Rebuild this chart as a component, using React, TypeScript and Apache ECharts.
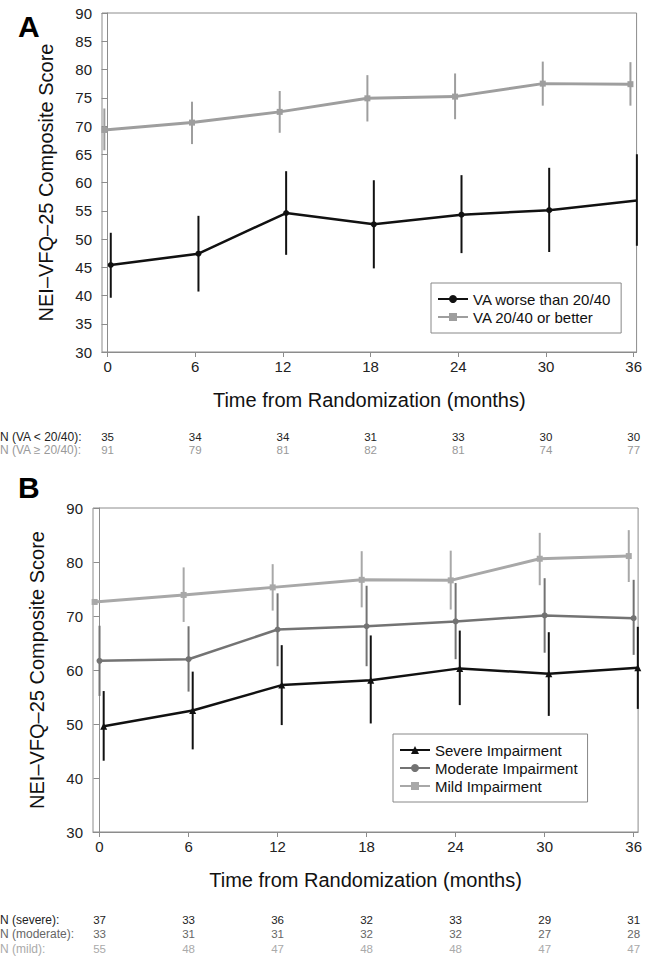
import React, { useEffect, useRef } from "react";
import * as echarts from "echarts";

// ---------- data ----------
const months = [0, 6, 12, 18, 24, 30, 36];
const monthTicks = [0, 6, 12, 18, 24, 30, 36];
const yTicksA = [30, 90];
const yTicksB = [30, 90];

// Panel A
const worseMean = [45.4, 47.4, 54.6, 52.6, 54.3, 55.1, 56.8];
const worseLo = [39.6, 40.7, 47.2, 44.8, 47.5, 47.7, 48.8];
const worseHi = [51.1, 54.1, 62.0, 60.4, 61.3, 62.6, 65.0];
const betterMean = [69.3, 70.6, 72.5, 74.9, 75.2, 77.5, 77.4];
const betterLo = [65.7, 66.8, 68.8, 70.8, 71.2, 73.6, 73.6];
const betterHi = [73.1, 74.3, 76.2, 79.0, 79.3, 81.4, 81.3];
const nWorse = [35, 34, 34, 31, 33, 30, 30];
const nBetter = [91, 79, 81, 82, 81, 74, 77];

// Panel B
const severeMean = [49.6, 52.5, 57.2, 58.1, 60.3, 59.3, 60.4];
const severeLo = [43.2, 45.3, 49.8, 50.1, 53.5, 51.5, 52.8];
const severeHi = [56.1, 59.7, 64.6, 66.4, 67.3, 67.0, 68.0];
const moderateMean = [61.7, 62.0, 67.5, 68.1, 69.0, 70.1, 69.6];
const moderateLo = [55.2, 56.0, 60.7, 60.7, 62.0, 63.2, 62.8];
const moderateHi = [68.2, 68.1, 74.2, 75.6, 76.1, 77.0, 76.7];
const mildMean = [72.6, 73.9, 75.3, 76.7, 76.6, 80.6, 81.1];
const mildLo = [null, 68.9, 71.0, 71.6, 71.2, 75.7, 76.3];
const mildHi = [null, 79.0, 79.6, 82.0, 82.1, 85.4, 85.9];
const nSevere = [37, 33, 36, 32, 33, 29, 31];
const nModerate = [33, 31, 31, 32, 32, 27, 28];
const nMild = [55, 48, 47, 48, 48, 47, 47];

const seriesNamesA = ["VA worse than 20/40", "VA 20/40 or better"];
const seriesNamesB = ["Severe Impairment", "Moderate Impairment", "Mild Impairment"];
const nLabelsA = ["N (VA < 20/40):", "N (VA \u2265 20/40):"];
const nLabelsB = ["N (severe):", "N (moderate):", "N (mild):"];
const yName = "NEI\u2013VFQ\u201325 Composite Score";
const xName = "Time from Randomization (months)";

// ---------- style ----------
const FONT = "'Liberation Sans', Arial, Helvetica, sans-serif";
const AXIS = "#8c8c8c";
const BLACK = "#111111";
const GREY_A = "#9e9e9e";
const MOD = "#737373";
const MILD = "#a8a8a8";

const A_TOP = 13, A_BOTTOM = 352, A_LEFT = 102, A_RIGHT = 640;
const B_TOP = 508, B_BOTTOM = 832, B_LEFT = 93, B_RIGHT = 642;

function errSeries(xi: number, yi: number, dodge: number, lo: (number | null)[], hi: (number | null)[], color: string, w: number) {
  const data: number[][] = [];
  months.forEach((m, i) => {
    if (lo[i] != null && hi[i] != null) data.push([m + dodge, lo[i] as number, hi[i] as number]);
  });
  return {
    type: "custom",
    xAxisIndex: xi,
    yAxisIndex: yi,
    silent: true,
    z: 2,
    encode: { x: 0, y: [1, 2] },
    renderItem: (_p: any, api: any) => {
      const a = api.coord([api.value(0), api.value(1)]);
      const b = api.coord([api.value(0), api.value(2)]);
      return {
        type: "line",
        shape: { x1: a[0], y1: a[1], x2: b[0], y2: b[1] },
        style: { stroke: color, lineWidth: w },
      };
    },
    data,
  };
}

function lineSeries(name: string, xi: number, yi: number, dodge: number, mean: number[], color: string, w: number, symbol: string, size: number) {
  return {
    type: "line",
    name,
    xAxisIndex: xi,
    yAxisIndex: yi,
    z: 3,
    data: months.map((m, i) => [m + dodge, mean[i]]),
    symbol,
    symbolSize: size,
    showAllSymbol: true,
    lineStyle: { color, width: w },
    itemStyle: { color },
  };
}

function mainX(grid: number, min: number, max: number) {
  return {
    type: "value",
    gridIndex: grid,
    min,
    max,
    position: "bottom",
    name: xName,
    nameLocation: "middle",
    nameGap: 38,
    nameTextStyle: { fontFamily: FONT, fontSize: 20, color: "#111" },
    axisLine: { show: true, lineStyle: { color: AXIS, width: 1 } },
    axisTick: { show: true, length: 5, lineStyle: { color: AXIS }, customValues: monthTicks },
    axisLabel: { show: true, margin: 7, fontFamily: FONT, fontSize: 15, color: "#222", customValues: monthTicks },
    splitLine: { show: false },
  };
}

function nAxis(grid: number, min: number, max: number, offset: number, values: number[], color: string) {
  return {
    type: "value",
    gridIndex: grid,
    min,
    max,
    position: "bottom",
    offset,
    axisLine: { show: false },
    axisTick: { show: false },
    splitLine: { show: false },
    axisLabel: {
      show: true,
      margin: 0,
      verticalAlign: "middle",
      fontFamily: FONT,
      fontSize: 11.5,
      color,
      customValues: monthTicks,
      formatter: (v: number) => {
        const idx = months.indexOf(Math.round(v));
        return idx >= 0 ? String(values[idx]) : "";
      },
    },
  };
}

function mainY(grid: number, interval: number) {
  return {
    type: "value",
    gridIndex: grid,
    min: grid === 0 ? yTicksA[0] : yTicksB[0],
    max: grid === 0 ? yTicksA[1] : yTicksB[1],
    interval,
    name: yName,
    nameLocation: "middle",
    nameGap: 46,
    nameTextStyle: { fontFamily: FONT, fontSize: 20, color: "#111" },
    axisLine: { show: true, lineStyle: { color: AXIS, width: 1 } },
    axisTick: { show: true, length: 6, lineStyle: { color: AXIS } },
    axisLabel: { margin: 10, fontFamily: FONT, fontSize: 15, color: "#222" },
    splitLine: { show: false },
  };
}

function legend(names: string[], left: number, top: number) {
  return {
    data: names,
    orient: "vertical",
    left,
    top,
    padding: [8, 10, 8, 6],
    itemGap: 2,
    itemWidth: 30,
    itemHeight: 10,
    borderColor: "#888",
    borderWidth: 1,
    backgroundColor: "#fff",
    selectedMode: false,
    textStyle: { fontFamily: FONT, fontSize: 15, color: "#111", lineHeight: 16 },
  };
}

export default function App() {
  const ref = useRef<HTMLDivElement>(null);
  useEffect(() => {
    document.body.style.margin = "0";
    if (!ref.current) return;
    const chart = echarts.init(ref.current, null, { renderer: "svg" });
    const axMinA = -0.38, axMaxA = 36.2;
    const axMinB = -0.44, axMaxB = 36.3;
    const nRowYA = [85, 98];
    const nRowYB = [88, 102, 117];
    const labelFont = `12px ${FONT}`;
    const option: any = {
      animation: false,
      backgroundColor: "#fff",
      grid: [
        { left: A_LEFT, top: A_TOP, width: A_RIGHT - A_LEFT, height: A_BOTTOM - A_TOP, show: true, borderColor: AXIS, borderWidth: 1, containLabel: false },
        { left: B_LEFT, top: B_TOP, width: B_RIGHT - B_LEFT, height: B_BOTTOM - B_TOP, show: true, borderColor: AXIS, borderWidth: 1, containLabel: false },
      ],
      xAxis: [
        mainX(0, axMinA, axMaxA),
        mainX(1, axMinB, axMaxB),
        nAxis(0, axMinA, axMaxA, nRowYA[0], nWorse, "#222"),
        nAxis(0, axMinA, axMaxA, nRowYA[1], nBetter, "#999"),
        nAxis(1, axMinB, axMaxB, nRowYB[0], nSevere, "#222"),
        nAxis(1, axMinB, axMaxB, nRowYB[1], nModerate, "#666"),
        nAxis(1, axMinB, axMaxB, nRowYB[2], nMild, "#aaa"),
      ],
      yAxis: [mainY(0, 5), mainY(1, 10)],
      legend: [legend(seriesNamesA, 431, 283), legend(seriesNamesB, 393, 734)],
      series: [
        errSeries(0, 0, -0.22, betterLo, betterHi, GREY_A, 2),
        errSeries(0, 0, 0.22, worseLo, worseHi, BLACK, 2),
        lineSeries(seriesNamesA[0], 0, 0, 0.22, worseMean, BLACK, 2.5, "circle", 6),
        lineSeries(seriesNamesA[1], 0, 0, -0.22, betterMean, GREY_A, 3, "rect", 6),
        errSeries(1, 1, -0.33, mildLo, mildHi, MILD, 2),
        errSeries(1, 1, 0, moderateLo, moderateHi, MOD, 2),
        errSeries(1, 1, 0.28, severeLo, severeHi, BLACK, 2),
        lineSeries(seriesNamesB[0], 1, 1, 0.28, severeMean, BLACK, 2.5, "triangle", 7),
        lineSeries(seriesNamesB[1], 1, 1, 0, moderateMean, MOD, 2.5, "circle", 6),
        lineSeries(seriesNamesB[2], 1, 1, -0.33, mildMean, MILD, 3, "rect", 6),
      ],
      graphic: [
        { type: "text", x: 18, y: 26, style: { text: "A", font: `bold 30px ${FONT}`, fill: "#000", verticalAlign: "middle" } },
        { type: "text", x: 18, y: 487, style: { text: "B", font: `bold 30px ${FONT}`, fill: "#000", verticalAlign: "middle" } },
        { type: "text", x: 0, y: A_BOTTOM + nRowYA[0], style: { text: nLabelsA[0], font: labelFont, fill: "#222", verticalAlign: "middle" } },
        { type: "text", x: 0, y: A_BOTTOM + nRowYA[1], style: { text: nLabelsA[1], font: labelFont, fill: "#999", verticalAlign: "middle" } },
        { type: "text", x: 0, y: B_BOTTOM + nRowYB[0], style: { text: nLabelsB[0], font: labelFont, fill: "#222", verticalAlign: "middle" } },
        { type: "text", x: 0, y: B_BOTTOM + nRowYB[1], style: { text: nLabelsB[1], font: labelFont, fill: "#666", verticalAlign: "middle" } },
        { type: "text", x: 0, y: B_BOTTOM + nRowYB[2], style: { text: nLabelsB[2], font: labelFont, fill: "#aaa", verticalAlign: "middle" } },
      ],
    };
    chart.setOption(option);
    return () => chart.dispose();
  }, []);
  return <div ref={ref} style={{ width: 645, height: 958 }} />;
}
